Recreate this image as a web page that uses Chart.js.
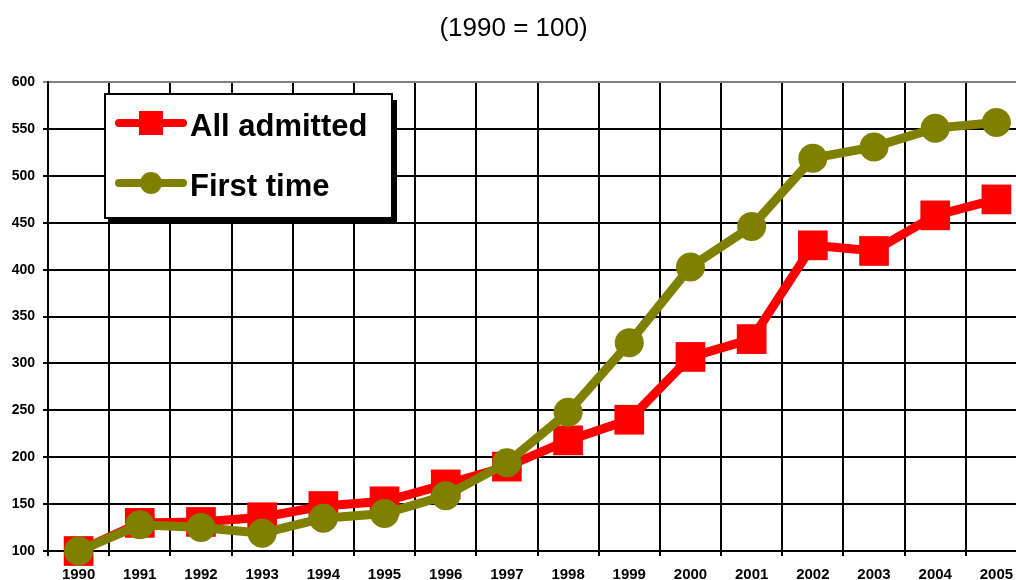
<!DOCTYPE html>
<html>
<head>
<meta charset="utf-8">
<script src="https://cdn.jsdelivr.net/npm/chart.js@4/dist/chart.umd.min.js"></script>
<style>
  html, body { margin: 0; padding: 0; overflow: hidden; background: #fff; }
</style>
</head>
<body>
<canvas id="c" width="1027" height="580"></canvas>
<script>
// index values, 1990 = 100
const years = ['1990','1991','1992','1993','1994','1995','1996','1997',
               '1998','1999','2000','2001','2002','2003','2004','2005'];
const allAdmitted = [100, 130, 131, 136, 148, 153, 171, 190, 218, 240, 307, 326, 426, 420, 458, 475];
const firstTime   = [100, 128, 125, 119, 135, 140, 159, 194, 248, 322, 403, 446, 519, 531, 551, 557];

const FONT = "Arial, 'Liberation Sans', sans-serif";

// boxed legend with a drop shadow, drawn inside the plot
const boxLegend = {
  id: 'boxLegend',
  afterDraw(chart) {
    const ctx = chart.ctx;
    const x = 105, y = 94, w = 287, h = 124;
    ctx.save();
    ctx.fillStyle = '#000';
    ctx.fillRect(x + 5, y + 6, w, h);
    ctx.fillStyle = '#fff';
    ctx.fillRect(x, y, w, h);
    ctx.lineWidth = 2;
    ctx.strokeStyle = '#000';
    ctx.strokeRect(x, y, w, h);

    chart.data.datasets.forEach((ds, i) => {
      const ly = 123 + i * 60;
      ctx.strokeStyle = ds.borderColor;
      ctx.lineWidth = 8;
      ctx.lineCap = 'round';
      ctx.beginPath();
      ctx.moveTo(119, ly);
      ctx.lineTo(183, ly);
      ctx.stroke();
      ctx.fillStyle = ds.pointBackgroundColor;
      if (ds.pointStyle === 'rect') {
        ctx.fillRect(139, ly - 12, 24, 24);
      } else {
        ctx.beginPath();
        ctx.arc(151, ly, 11, 0, Math.PI * 2);
        ctx.fill();
      }
      ctx.fillStyle = '#000';
      ctx.font = 'bold 31px ' + FONT;
      ctx.textBaseline = 'middle';
      ctx.textAlign = 'left';
      ctx.fillText(ds.label, 190, ly + 4);
    });
    ctx.restore();
  }
};

new Chart(document.getElementById('c'), {
  type: 'line',
  data: {
    labels: years,
    datasets: [
      {
        label: 'All admitted',
        data: allAdmitted,
        borderColor: '#ff0000',
        backgroundColor: '#ff0000',
        pointBackgroundColor: '#ff0000',
        pointBorderColor: '#ff0000',
        pointBorderWidth: 0,
        pointStyle: 'rect',
        pointRadius: 21,
        borderWidth: 9,
        tension: 0,
        clip: false,
        order: 1
      },
      {
        label: 'First time',
        data: firstTime,
        borderColor: '#808000',
        backgroundColor: '#808000',
        pointBackgroundColor: '#808000',
        pointBorderColor: '#808000',
        pointBorderWidth: 0,
        pointStyle: 'circle',
        pointRadius: 14.5,
        borderWidth: 9,
        tension: 0,
        clip: false,
        order: 0
      }
    ]
  },
  options: {
    responsive: false,
    animation: false,
    layout: { padding: 0, autoPadding: false },
    plugins: {
      legend: { display: false },
      tooltip: { enabled: false },
      title: {
        display: true,
        text: '(1990 = 100)',
        color: '#000',
        font: { family: FONT, size: 26, weight: 'normal' },
        padding: { top: 13, bottom: 38 }
      }
    },
    scales: {
      x: {
        offset: true,
        grid: {
          offset: true,
          color: '#000',
          lineWidth: 2,
          tickLength: 5
        },
        border: { color: '#000', width: 2 },
        ticks: {
          color: '#000',
          padding: 10,
          maxRotation: 0,
          autoSkip: false,
          font: { family: FONT, size: 15, weight: 'bold' }
        },
        afterFit(scale) {
          scale.height = 29;
          scale.paddingLeft = 0;
          scale.paddingRight = 0;
        }
      },
      y: {
        min: 100,
        max: 600,
        ticks: {
          stepSize: 50,
          color: '#000',
          padding: 8,
          font: { family: FONT, size: 14, weight: 'bold' }
        },
        grid: {
          color: (c) => (c.tick && c.tick.value === 600 ? '#808080' : '#000'),
          lineWidth: 2,
          tickLength: 5
        },
        border: { color: '#000', width: 2 },
        afterFit(scale) {
          scale.width = 48;
          scale.paddingTop = 0;
          scale.paddingBottom = 0;
        }
      }
    }
  },
  plugins: [boxLegend]
});
</script>
</body>
</html>
